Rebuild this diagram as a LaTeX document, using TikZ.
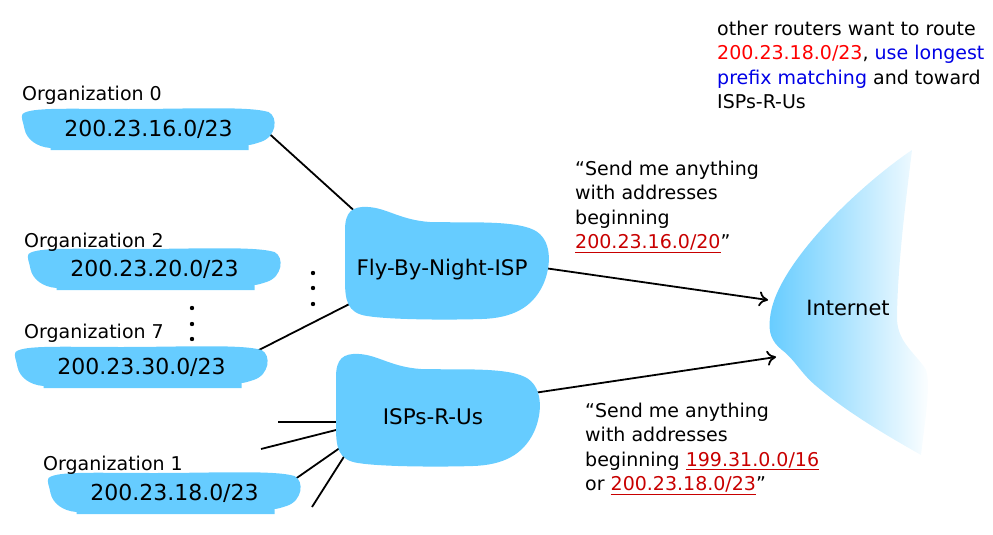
\documentclass[tikz,border=0pt]{standalone}
\usepackage{fontspec}
\setmainfont{DejaVu Sans}
\usetikzlibrary{arrows.meta,backgrounds}

\definecolor{blobblue}{RGB}{102,204,255}
\definecolor{addrred}{RGB}{255,0,0}
\definecolor{linkred}{RGB}{200,0,0}
\definecolor{hintblue}{RGB}{0,0,230}
\newcommand{\addr}[1]{\textcolor{linkred}{\underline{#1}}}

\tikzset{
    orgshape/.pic={\fill[blobblue]
        (-126,-15) .. controls (-118,-22) and (-80,-20) .. (-20,-20) .. controls (40,-20) and (100,-23) .. (120,-17)
        .. controls (130,-12) and (128,8) .. (112,13) .. controls (106,15) and (102,16) .. (100,16) -- (100,21) -- (-98,21) -- (-98,19)
        .. controls (-112,18) and (-122,10) .. (-124,0) .. controls (-125,-6) and (-128,-12) .. (-126,-15) -- cycle;},
    ispshape/.pic={\fill[blobblue]
        (-97,-40) .. controls (-97,-58) and (-90,-64) .. (-74,-63) .. controls (-55,-62) and (-42,-50) .. (-12,-48)
        .. controls (25,-47) and (72,-50) .. (92,-40) .. controls (110,-31) and (110,-5) .. (101,15)
        .. controls (90,38) and (70,48) .. (40,49) .. controls (10,50) and (-50,50) .. (-75,46)
        .. controls (-95,43) and (-97,30) .. (-97,10) -- cycle;}
}

\begin{document}
\begin{tikzpicture}[x=1pt,y=-1pt,
    orgblob/.style={minimum width=256pt, minimum height=44pt, inner sep=0pt, font=\fontsize{22}{26}\selectfont},
    ispcloud/.style={minimum width=216pt, minimum height=128pt, inner sep=0pt, font=\fontsize{21.5}{26}\selectfont},
    orglabel/.style={anchor=base west, inner sep=0pt, font=\fontsize{19}{23}\selectfont},
    note/.style={anchor=north west, inner sep=0pt, align=left, font=\fontsize{19}{24.5}\selectfont},
    link/.style={line width=1.8pt},
    push/.style={link, -{To[length=9pt,width=15pt]}}]
    \useasboundingbox (0,0) rectangle (993,535);

    % Internet
    \shade[left color=blobblue, right color=white]
        (912,150) .. controls (860,185) and (775,265) .. (770,318) .. controls (768,333) and (772,342) .. (782,350)
        .. controls (795,360) and (800,372) .. (815,385) .. controls (850,415) and (895,440) .. (921,455)
        .. controls (925,420) and (932,380) .. (925,368) .. controls (912,350) and (896,340) .. (897,315)
        .. controls (898,260) and (906,200) .. (912,150) -- cycle;
    \node[font=\fontsize{21}{25}\selectfont] (net) at (848,308) {Internet};
    \coordinate (inA) at (768,300);
    \coordinate (inB) at (776,357);

    % Organizations
    \node[orglabel] (org0lbl) at (22,100) {Organization 0};
    \node[orgblob] (org0) at (148.5,129) {200.23.16.0/23};
    \node[orglabel] (org2lbl) at (24,247) {Organization 2};
    \node[orgblob] (org2) at (154.5,269) {200.23.20.0/23};
    \node[orglabel] (org7lbl) at (24,338) {Organization 7};
    \node[orgblob] (org7) at (141.5,367) {200.23.30.0/23};
    \node[orglabel] (org1lbl) at (43,470) {Organization 1};
    \node[orgblob] (org1) at (174.5,493) {200.23.18.0/23};

    \foreach \y in {308,324,339} \fill (192,\y) circle (2.2pt);
    \foreach \y in {273,288,304} \fill (313,\y) circle (2.2pt);

    % ISPs
    \node[ispcloud] (fly) at (442,270) {Fly-By-Night-ISP};
    \node[ispcloud] (isp) at (433,417) {ISPs-R-Us};
    \coordinate (stub1) at (278,422);
    \coordinate (stub2) at (261,449);
    \coordinate (stub4) at (312,507);

    % Advertisements
    \node[note] (hint) at (717,20.5) {other routers want to route\\
        \textcolor{addrred}{200.23.18.0/23}, \textcolor{hintblue}{use longest}\\
        \textcolor{hintblue}{prefix matching} and toward\\
        ISPs-R-Us};
    \node[note] (flyadv) at (575,160.6) {“Send me anything\\ with addresses\\ beginning\\ \addr{200.23.16.0/20}"};
    \node[note] (ispadv) at (585,402.6) {“Send me anything\\ with addresses\\ beginning \addr{199.31.0.0/16}\\ or \addr{200.23.18.0/23}"};

    \begin{scope}[on background layer]
        \draw[link] ([shift={(-21.5,-8)}]org0.east) -- ([shift={(36,19)}]fly.north west);
        \draw[link] ([shift={(-24.5,-10)}]org7.east) -- ([shift={(31,-38)}]fly.south west);
        \draw[push] ([shift={(-20,-4)}]fly.east) -- (inA);
        \draw[push] ([shift={(-21,-22)}]isp.east) -- (inB);
        \draw[link] (stub1) -- ([shift={(25,5)}]isp.west);
        \draw[link] (stub2) -- ([shift={(25,9.5)}]isp.west);
        \draw[link] ([shift={(-17.5,-7)}]org1.east) -- ([shift={(25,24)}]isp.west);
        \draw[link] (stub4) -- ([shift={(25,30.5)}]isp.west);
        % blobs
        \foreach \org in {org0,org2,org7,org1} \pic at (\org) {orgshape};
        \pic at (fly) {ispshape};
        \pic at (isp) {ispshape};
    \end{scope}
\end{tikzpicture}
\end{document}
